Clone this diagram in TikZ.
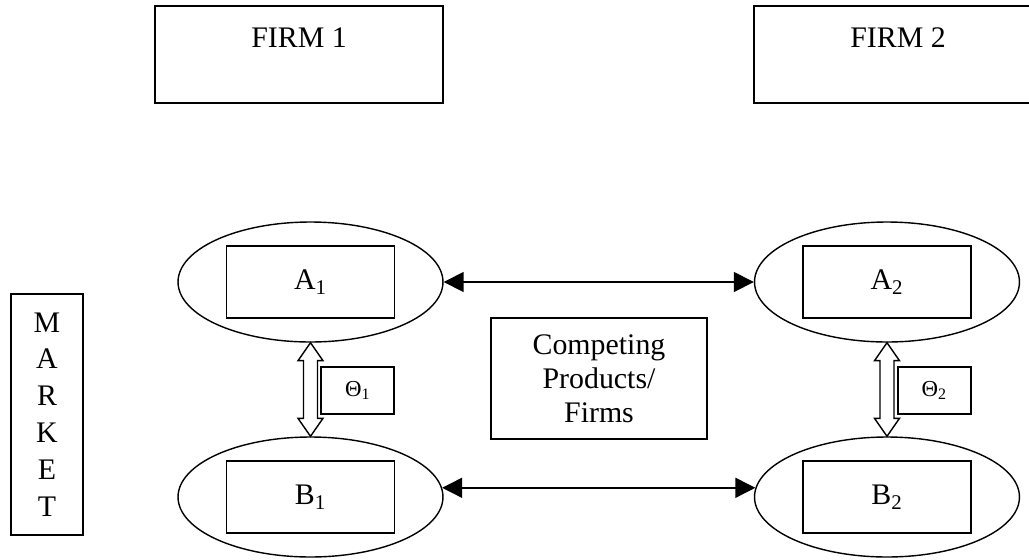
\documentclass[tikz,border=0pt]{standalone}
\usepackage{fontspec}
\setmainfont{Liberation Serif}
\usetikzlibrary{arrows.meta,positioning,shapes.geometric}

\begin{document}
\begin{tikzpicture}[x=0.02cm, y=-0.02cm,
    every node/.style={font=\fontsize{17}{21}\selectfont},
    box/.style={draw, line width=0.9pt, inner sep=0pt, align=center},
    oval/.style={draw, ellipse, line width=0.8pt, minimum width=5.3cm,
      minimum height=2.4cm, inner sep=0pt},
    link/.style={line width=0.8pt,
      {Triangle[length=0.4cm, width=0.4cm]}-{Triangle[length=0.4cm, width=0.4cm]}},
    hollow/.style={draw, fill=white, line width=0.8pt, line join=miter}]
  \clip (0,0) rectangle (1029,559);

  % the two firms
  \node[box, anchor=north, minimum width=5.76cm, text height=0.83cm, text depth=1.11cm]
    (firm1) at (299,5) {FIRM 1};
  \node[box, anchor=north, minimum width=5.76cm, text height=0.83cm, text depth=1.11cm]
    (firm2) at (898,5) {FIRM 2};

  % market column
  \node[box, minimum width=1.44cm, minimum height=4.82cm] (market) at (47,414.5)
    {M\\A\\R\\K\\E\\T};

  % products of each firm
  \foreach \n/\x in {1/310.5, 2/887}
  {
    \node[oval] (a\n) at (\x,282) {};
    \node[box, minimum width=3.36cm, minimum height=1.44cm] (a\n box) at (a\n)
      {A\textsubscript{\n}};
    \node[oval] (b\n) at (\x,497) {};
    \node[box, minimum width=3.36cm, minimum height=1.44cm] (b\n box) at (b\n)
      {B\textsubscript{\n}};
    \node[box, anchor=east, minimum width=1.46cm, minimum height=0.94cm,
      font=\fontsize{13}{15}\selectfont] (theta\n) at (\x+84.5,390.5)
      {Θ\textsubscript{\n}};
    \draw[hollow] (a\n.south) -- ([shift={(12.5,18)}]a\n.south)
      -- ([shift={(7,18)}]a\n.south) -- ([shift={(7,-18)}]b\n.north)
      -- ([shift={(12.5,-18)}]b\n.north) -- (b\n.north)
      -- ([shift={(-12.5,-18)}]b\n.north) -- ([shift={(-7,-18)}]b\n.north)
      -- ([shift={(-7,18)}]a\n.south) -- ([shift={(-12.5,18)}]a\n.south) -- cycle;
  }

  \node[box, minimum width=4.32cm, minimum height=2.42cm,
    font=\fontsize{17}{19.3}\selectfont] (rivals) at (599,378.5)
    {Competing\\Products/\\Firms};

  \draw[link] (a1.east) -- (a2.west);
  \draw[link] (b1.4) -- (b2.176);
\end{tikzpicture}
\end{document}
